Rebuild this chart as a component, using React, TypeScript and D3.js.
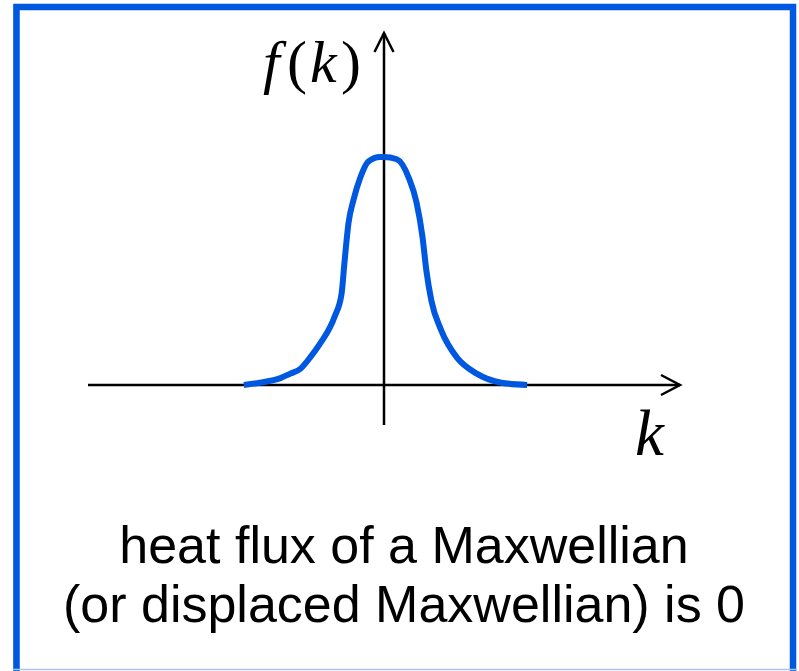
import React from "react";
import * as d3 from "d3";

// Distribution f(k) sampled along k (arbitrary units, peak normalised to 1)
const kValues = [-1.42, -1.26, -1.05, -0.95, -0.85, -0.75, -0.65, -0.5, -0.43, -0.4, -0.36, -0.31, -0.24, -0.16, -0.04, 0, 0.13, 0.25, 0.33, 0.39, 0.43, 0.48, 0.58, 0.74, 0.94, 1.19, 1.45];
const fValues = [0.0, 0.01, 0.03, 0.05, 0.07, 0.12, 0.18, 0.3, 0.4, 0.54, 0.71, 0.81, 0.91, 0.98, 1.0, 1.0, 0.99, 0.91, 0.8, 0.65, 0.5, 0.37, 0.24, 0.12, 0.05, 0.01, 0.0];

// Axis extents in data units
const kAxis = [-3, 3];
const fAxis = [-0.175, 1.544];

const captionLines = ["heat flux of a Maxwellian", "(or displaced Maxwellian) is 0"];

const W = 799;
const H = 671;
const BLUE = "#0058E0";

export default function App() {
  const x = d3.scaleLinear().domain([-3, 3]).range([88, 680]);
  const y = d3.scaleLinear().domain([0, 1]).range([385, 157]);

  const pts: [number, number][] = kValues.map((k, i) => [k, fValues[i]]);
  const line = d3
    .line<[number, number]>()
    .x((d) => x(d[0]))
    .y((d) => y(d[1]))
    .curve(d3.curveMonotoneX);

  const xTip = x(kAxis[1]);
  const yAxisY = y(0);
  const yTip = y(fAxis[1]);
  const xAxisX = x(0);

  const serif = "'Liberation Serif', 'Times New Roman', serif";

  return (
    <svg
      width={W}
      height={H}
      style={{ position: "absolute", left: 0, top: 0, background: "#fff" }}
    >
      {/* frame */}
      <line x1={13.5} y1={4} x2={13.5} y2={H} stroke="#b8c4d8" strokeWidth={1} />
      <rect x={16.5} y={7} width={776.5} height={670} fill="none" stroke={BLUE} strokeWidth={6.5} />
      <line x1={13} y1={669.5} x2={797} y2={669.5} stroke="#aac6ef" strokeWidth={1.5} />

      {/* axes */}
      <g stroke="#000" strokeWidth={2.5} fill="none" strokeLinecap="butt">
        <line x1={x(kAxis[0])} y1={yAxisY} x2={xTip} y2={yAxisY} />
        <polyline points={`${xTip - 19},${yAxisY - 10} ${xTip},${yAxisY} ${xTip - 19},${yAxisY + 10}`} />
        <line x1={xAxisX} y1={y(fAxis[0])} x2={xAxisX} y2={yTip} />
        <polyline points={`${xAxisX - 9.5},${yTip + 19} ${xAxisX},${yTip} ${xAxisX + 9.5},${yTip + 19}`} />
      </g>

      {/* distribution curve */}
      <path d={line(pts) ?? ""} fill="none" stroke={BLUE} strokeWidth={6} strokeLinejoin="round" />

      {/* axis labels */}
      <g fontFamily={serif} fontSize={60} fill="#000">
        <text x={263} y={82} fontStyle="italic">f</text>
        <text x={287} y={82}>(</text>
        <text x={310} y={82} fontStyle="italic">k</text>
        <text x={341} y={82}>)</text>
      </g>
      <text x={635} y={455} fontFamily={serif} fontSize={65} fontStyle="italic" fill="#000">k</text>

      {/* caption */}
      <g fontFamily="'Liberation Sans', Arial, sans-serif" fontSize={52} fill="#000" textAnchor="middle">
        {captionLines.map((t, i) => (
          <text key={i} x={404} y={563 + i * 59}>{t}</text>
        ))}
      </g>
    </svg>
  );
}
